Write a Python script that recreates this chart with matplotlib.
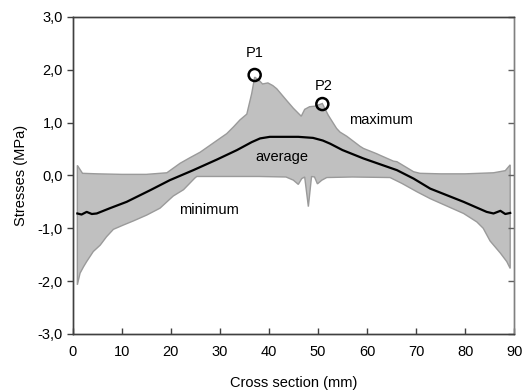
import matplotlib
matplotlib.use("Agg")
import matplotlib.pyplot as plt
from matplotlib.ticker import FuncFormatter
import numpy as np

plt.rcParams['font.family'] = ['Liberation Sans', 'DejaVu Sans']

# Maximum stress envelope
max_x = [0.95, 2.0, 5, 10, 15, 19.2, 21.9, 24.0, 26.0, 28.0, 30.0, 31.4, 32.8, 34.1, 35.5, 36.5, 37.1,
         38.0, 38.7, 39.8, 40.8, 41.6, 43.6, 45.0, 46.6, 47.3, 48.3, 49.4, 50.9, 52.1, 53.8, 54.5,
         55.9, 58.6, 59.3, 62.0, 62.7, 65.4, 66.1, 69.5, 70.8, 75, 80, 85.8, 88.2, 89.2]
max_y = [0.19, 0.04, 0.03, 0.02, 0.02, 0.05, 0.23, 0.34, 0.44, 0.57, 0.70, 0.79, 0.92, 1.05, 1.16, 1.55, 1.86,
         1.80, 1.73, 1.75, 1.70, 1.64, 1.42, 1.27, 1.12, 1.25, 1.30, 1.31, 1.36, 1.14, 0.89, 0.82,
         0.74, 0.55, 0.51, 0.41, 0.38, 0.27, 0.26, 0.07, 0.04, 0.03, 0.03, 0.05, 0.09, 0.20]

# Minimum stress envelope
min_x = [0.95, 1.5, 2.2, 2.85, 4.2, 5.6, 6.9, 8.3, 10.3, 12.4, 15.1, 17.8, 20.5, 22.6, 24.9, 25.3,
         30, 38, 43.5, 45.0, 46.0, 46.7, 47.3, 48.05, 48.7, 49.3, 49.9, 50.8, 51.8, 57, 64.7,
         67.1, 70.2, 72.9, 76.3, 79.7, 82.4, 83.7, 85.1, 87.2, 88.5, 89.2]
min_y = [-2.07, -1.85, -1.73, -1.63, -1.44, -1.32, -1.16, -1.02, -0.94, -0.86, -0.75, -0.62, -0.39, -0.27, -0.05, -0.02,
         -0.02, -0.02, -0.03, -0.09, -0.17, -0.06, -0.03, -0.59, -0.02, -0.03, -0.16, -0.09, -0.04, -0.03, -0.04,
         -0.15, -0.31, -0.44, -0.58, -0.72, -0.88, -1.00, -1.24, -1.47, -1.63, -1.76]

# Average stress
avg_x = [0.95, 1.8, 2.85, 3.9, 4.9, 7.6, 11.0, 15.8, 19.8, 24.6, 29.4, 33.5, 36.5, 38.2, 40.2, 42, 46, 49,
         51, 52.5, 55.0, 59.3, 66.1, 69.5, 72.9, 79.7, 84.4, 85.8, 87.2, 88.2, 89.2]
avg_y = [-0.72, -0.74, -0.69, -0.73, -0.72, -0.62, -0.50, -0.28, -0.09, 0.10, 0.30, 0.48, 0.63, 0.70, 0.73, 0.73, 0.73, 0.71,
         0.66, 0.60, 0.48, 0.32, 0.10, -0.06, -0.25, -0.50, -0.69, -0.72, -0.67, -0.73, -0.71]

# Marked peaks
peak_labels = ["P1", "P2"]
peak_x = [37.1, 50.9]
peak_y = [1.90, 1.35]

FS = 10.5

fig = plt.figure(figsize=(5.23, 3.92), dpi=100)
ax = fig.add_axes([0.139, 0.148, 0.844, 0.809])

poly_x = np.concatenate([max_x, min_x[::-1]])
poly_y = np.concatenate([max_y, min_y[::-1]])
ax.fill(poly_x, poly_y, facecolor='#c0c0c0', edgecolor='#9a9a9a', linewidth=1.0, zorder=1)
ax.plot(avg_x, avg_y, color='black', linewidth=1.6, zorder=3)
ax.scatter(peak_x, peak_y, s=75, facecolors='none', edgecolors='black', linewidths=1.8, zorder=4)

ax.text(peak_x[0], peak_y[0] + 0.28, peak_labels[0], ha='center', va='bottom', fontsize=FS)
ax.text(peak_x[1] + 0.2, peak_y[1] + 0.20, peak_labels[1], ha='center', va='bottom', fontsize=FS)
ax.text(62.8, 1.05, "maximum", ha='center', va='center', fontsize=FS)
ax.text(42.7, 0.34, "average", ha='center', va='center', fontsize=FS)
ax.text(27.8, -0.66, "minimum", ha='center', va='center', fontsize=FS)

ax.set_xlim(0, 90)
ax.set_ylim(-3, 3)
ax.set_xticks(np.arange(0, 91, 10))
ax.set_yticks(np.arange(-3, 3.1, 1))
ax.yaxis.set_major_formatter(FuncFormatter(lambda v, p: f"{v:.1f}".replace('.', ',')))

ax.tick_params(axis='x', direction='in', length=4, width=1, color='#404040', labelsize=FS, pad=8)
ax.tick_params(axis='y', direction='out', length=4, width=1, color='#404040', labelsize=FS, pad=3,
               right=False)

# inward ticks on the right side
axr = ax.twinx()
axr.set_ylim(ax.get_ylim())
axr.set_yticks(ax.get_yticks())
axr.tick_params(axis='y', direction='in', length=4, width=1, color='#606060', labelright=False)

for a in (ax, axr):
    for s in a.spines.values():
        s.set_color('#404040')
        s.set_linewidth(1.0)
    a.spines['right'].set_color('#808080')

ax.set_xlabel("Cross section (mm)", fontsize=FS, labelpad=12)
ax.set_ylabel("Stresses (MPa)", fontsize=FS, labelpad=7)

fig.savefig("out.png", dpi=100)
